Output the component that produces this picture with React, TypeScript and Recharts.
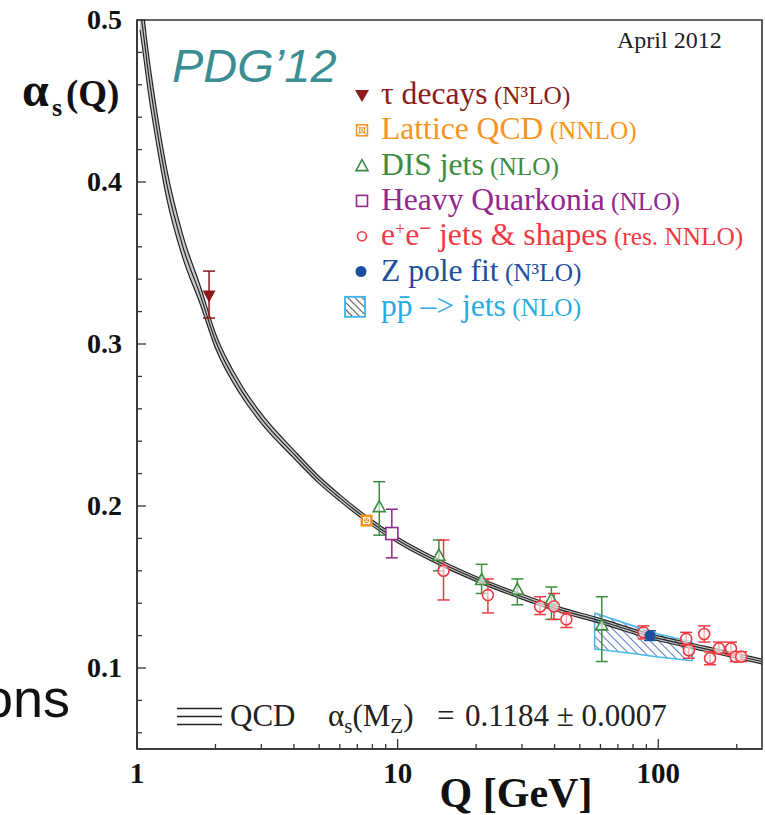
import React from 'react';
import {
  ComposedChart,
  Line,
  Area,
  Scatter,
  XAxis,
  YAxis,
  ErrorBar,
  ReferenceArea,
  ReferenceLine,
} from 'recharts';

// ---------- data ----------
const qcdQ = [1.027, 1.05, 1.1, 1.2, 1.3, 1.5, 1.75, 2, 2.5, 3, 4, 5, 6, 7.6, 10, 15, 20, 30, 40, 60, 91, 150, 250];
const qcdCentral = [0.507, 0.496, 0.47, 0.43, 0.399, 0.36, 0.33, 0.302, 0.272, 0.254, 0.232, 0.216, 0.205, 0.192, 0.179, 0.164, 0.155, 0.144, 0.137, 0.129, 0.12, 0.112, 0.104];
const qcdHigh = [0.52, 0.509, 0.482, 0.44, 0.408, 0.367, 0.3355, 0.3065, 0.2755, 0.257, 0.2345, 0.2182, 0.207, 0.1938, 0.1807, 0.1656, 0.1565, 0.1455, 0.1385, 0.1305, 0.1215, 0.1135, 0.1055];
const qcdLow = [0.494, 0.483, 0.458, 0.42, 0.39, 0.353, 0.3245, 0.2975, 0.2685, 0.251, 0.2295, 0.2138, 0.203, 0.1902, 0.1773, 0.1624, 0.1535, 0.1425, 0.1355, 0.1275, 0.1185, 0.1105, 0.1025];

const tauQ = [1.89];
const tauA = [0.33];
const tauLo = [0.316];
const tauHi = [0.345];

const latQ = [7.6];
const latA = [0.191];
const latLo = [0.189];
const latHi = [0.193];

const disQ = [8.5, 14.4, 21.0, 28.8, 38.9, 60.7];
const disA = [0.199, 0.169, 0.154, 0.148, 0.142, 0.126];
const disLo = [0.182, 0.16, 0.146, 0.139, 0.13, 0.104];
const disHi = [0.215, 0.179, 0.164, 0.155, 0.15, 0.144];

const hqQ = [9.5];
const hqA = [0.183];
const hqLo = [0.168];
const hqHi = [0.198];

const eeQ = [15.0, 22.2, 35.2, 39.8, 44.4, 87.8, 128, 131, 150, 158, 171, 190, 198, 208];
const eeA = [0.16, 0.145, 0.138, 0.138, 0.13, 0.122, 0.118, 0.111, 0.121, 0.106, 0.112, 0.112, 0.107, 0.107];
const eeLo = [0.142, 0.134, 0.133, 0.13, 0.125, 0.118, 0.114, 0.106, 0.116, 0.102, 0.109, 0.108, 0.104, 0.104];
const eeHi = [0.179, 0.155, 0.144, 0.146, 0.134, 0.126, 0.122, 0.114, 0.126, 0.11, 0.116, 0.116, 0.11, 0.11];

const zQ = [93];
const zA = [0.12];
const zLo = [0.117];
const zHi = [0.123];

const ppQ = [57, 80, 100, 135];
const ppLow = [0.1117, 0.109, 0.1068, 0.1045];
const ppHigh = [0.134, 0.126, 0.121, 0.116];

const xTicks = [1, 2, 3, 4, 5, 6, 7, 8, 9, 10, 20, 30, 40, 50, 60, 70, 80, 90, 100, 200];
const xLabels = [1, 10, 100];
const yTicks = [0.06, 0.08, 0.1, 0.12, 0.14, 0.16, 0.18, 0.2, 0.22, 0.24, 0.26, 0.28, 0.3, 0.32, 0.34, 0.36, 0.38, 0.4, 0.42, 0.44, 0.46, 0.48, 0.5];
const yLabels = ['0.1', '0.2', '0.3', '0.4', '0.5'];

const legendRows = [
  { main: 'τ decays', sub: ' (N³LO)', color: '#8b1a1a' },
  { main: 'Lattice QCD', sub: ' (NNLO)', color: '#f7941d' },
  { main: 'DIS jets', sub: ' (NLO)', color: '#3d8c40' },
  { main: 'Heavy Quarkonia', sub: ' (NLO)', color: '#93278f' },
  { main: 'EE', sub: ' (res. NNLO)', color: '#ee3a43' },
  { main: 'Z pole fit', sub: ' (N³LO)', color: '#1c4fa0' },
  { main: 'pp\u0304 \u2013> jets', sub: ' (NLO)', color: '#29abe2' },
];

// ---------- tables built from the arrays ----------
const curve = (vals: number[]) => qcdQ.map((q, i) => ({ q, v: vals[i] }));
const bandData = qcdQ.map((q, i) => ({ q, band: [qcdLow[i], qcdHigh[i]] }));
const pts = (qs: number[], as: number[], los: number[], his: number[]) =>
  qs.map((q, i) => ({ q, a: as[i], err: [as[i] - los[i], his[i] - as[i]] }));
const ppData = ppQ.map((q, i) => ({ q, band: [ppLow[i], ppHigh[i]] }));

const SERIF = '"Liberation Serif", "Times New Roman", serif';
const SANS = '"Liberation Sans", Arial, sans-serif';
const AX = '#333';

const C_TAU = '#8b1a1a';
const C_LAT = '#f7941d';
const C_DIS = '#3d8c40';
const C_HQ = '#93278f';
const C_EE = '#ee3a43';
const C_Z = '#1c4fa0';

// ---------- shapes ----------
const TauShape = (p: any) => (
  <polygon points={`${p.cx - 6.5},${p.cy - 5} ${p.cx + 6.5},${p.cy - 5} ${p.cx},${p.cy + 7}`} fill={C_TAU} />
);
const LatShape = (p: any) => (
  <g>
    <rect x={p.cx - 6} y={p.cy - 6} width={12} height={12} fill={C_LAT} />
    <rect x={p.cx - 3} y={p.cy - 3} width={6} height={6} fill="none" stroke="#fff" strokeWidth={1} />
    <line x1={p.cx - 3} y1={p.cy - 3} x2={p.cx + 3} y2={p.cy + 3} stroke="#fff" strokeWidth={1} />
    <line x1={p.cx - 3} y1={p.cy + 3} x2={p.cx + 3} y2={p.cy - 3} stroke="#fff" strokeWidth={1} />
  </g>
);
const DisShape = (p: any) => (
  <polygon
    points={`${p.cx},${p.cy - 7} ${p.cx - 6},${p.cy + 4} ${p.cx + 6},${p.cy + 4}`}
    fill="#fff"
    fillOpacity={0.6}
    stroke={C_DIS}
    strokeWidth={1.6}
  />
);
const HqShape = (p: any) => (
  <rect x={p.cx - 6} y={p.cy - 6} width={12} height={12} fill="#fff" stroke={C_HQ} strokeWidth={1.6} />
);
const EeShape = (p: any) => (
  <circle cx={p.cx} cy={p.cy} r={5.5} fill="#fff" fillOpacity={0.6} stroke={C_EE} strokeWidth={1.6} />
);
const ZShape = (p: any) => <circle cx={p.cx} cy={p.cy} r={5.5} fill={C_Z} />;

// ---------- ticks ----------
const XTick = (props: any) => {
  const { x, y, payload } = props;
  const v = payload.value;
  const major = xLabels.includes(v);
  return (
    <g>
      <line x1={x} x2={x} y1={y} y2={y - (major ? 10 : 5)} stroke={AX} strokeWidth={1.3} />
      {major && (
        <text x={x} y={y + 34} textAnchor="middle" fontFamily={SERIF} fontWeight="bold" fontSize={29} fill="#111">
          {v}
        </text>
      )}
    </g>
  );
};

const YTick = (props: any) => {
  const { x, y, payload } = props;
  const label = Number(payload.value).toFixed(2).replace(/0$/, '');
  const major = yLabels.includes(label);
  return (
    <g>
      <line x1={x} x2={x + (major ? 9 : 5)} y1={y} y2={y} stroke={AX} strokeWidth={1.3} />
      {major && (
        <text x={x - 15} y={y + 9} textAnchor="end" fontFamily={SERIF} fontWeight="bold" fontSize={28} fill="#111">
          {label}
        </text>
      )}
    </g>
  );
};

// ---------- overlay (texts & legend) ----------
const Overlay = () => {
  const base = (i: number) => 104 + 35.3 * i;
  const mx = 362;
  const mark = (i: number) => base(i) - 9;
  return (
    <svg
      width={765}
      height={815}
      style={{ position: 'absolute', left: 0, top: 0, pointerEvents: 'none' }}
    >
      <defs>
        <pattern id="hatchGray" patternUnits="userSpaceOnUse" width={5} height={5} patternTransform="rotate(-45)">
          <line x1={0} y1={0} x2={0} y2={5} stroke="#444" strokeWidth={1.8} />
        </pattern>
      </defs>
      {/* stray text at left edge (cut off in the reference too) */}
      <text x={70} y={717} textAnchor="end" fontFamily={SANS} fontSize={54} fill="#111">
        ons
      </text>

      {/* y axis label */}
      <text x={22} y={106} fontFamily={SERIF} fontWeight="bold" fontSize={48} fill="#111">
        α
      </text>
      <text x={52} y={116} fontFamily={SERIF} fontWeight="bold" fontSize={26} fill="#111">
        s
      </text>
      <text x={66} y={106} fontFamily={SERIF} fontWeight="bold" fontSize={37} fill="#111">
        (Q)
      </text>

      {/* x axis label */}
      <text x={516} y={807} textAnchor="middle" fontFamily={SERIF} fontWeight="bold" fontSize={42} fill="#111">
        Q [GeV]
      </text>

      {/* PDG'12 */}
      <text x={172} y={82} fontFamily={SANS} fontStyle="italic" fontSize={47} fill="#3a8d92">
        PDG’12
      </text>

      {/* April 2012 */}
      <text x={617} y={48} fontFamily={SERIF} fontSize={24} fill="#222">
        April 2012
      </text>

      {/* legend markers */}
      <polygon points={`${mx - 7},${mark(0) - 5} ${mx + 7},${mark(0) - 5} ${mx},${mark(0) + 7}`} fill={C_TAU} />
      <g>
        <rect x={mx - 5.5} y={mark(1) - 5.5} width={11} height={11} fill="#fff" stroke={C_LAT} strokeWidth={1.5} />
        <rect x={mx - 2.5} y={mark(1) - 2.5} width={5} height={5} fill="none" stroke={C_LAT} strokeWidth={1} />
        <line x1={mx - 5} y1={mark(1) - 5} x2={mx + 5} y2={mark(1) + 5} stroke={C_LAT} strokeWidth={1} />
        <line x1={mx - 5} y1={mark(1) + 5} x2={mx + 5} y2={mark(1) - 5} stroke={C_LAT} strokeWidth={1} />
      </g>
      <polygon
        points={`${mx},${mark(2) - 6} ${mx - 6},${mark(2) + 5} ${mx + 6},${mark(2) + 5}`}
        fill="none"
        stroke={C_DIS}
        strokeWidth={1.6}
      />
      <rect x={mx - 5.5} y={mark(3) - 5.5} width={11} height={11} fill="none" stroke={C_HQ} strokeWidth={1.6} />
      <circle cx={mx} cy={mark(4)} r={4.5} fill="none" stroke={C_EE} strokeWidth={1.6} />
      <circle cx={mx - 1} cy={mark(5)} r={5.5} fill={C_Z} />
      <rect x={345} y={mark(6) - 10} width={20} height={20} fill="url(#hatchGray)" stroke="#3cb4e7" strokeWidth={1.8} />

      {/* legend texts */}
      {legendRows.map((r, i) => {
        let main: React.ReactNode = r.main;
        if (r.main === 'EE') {
          main = (
            <>
              e<tspan dy={-10} fontSize={18}>+</tspan>
              <tspan dy={10}>e</tspan>
              <tspan dy={-10} fontSize={21} fontWeight="bold">−</tspan>
              <tspan dy={10}>{'  jets & shapes'}</tspan>
            </>
          );
        }
        return (
          <text key={i} x={381} y={base(i)} fontFamily={SERIF} fontSize={31.6} fill={r.color}>
            {main}
            <tspan fontSize={25.3}>{r.sub}</tspan>
          </text>
        );
      })}

      {/* bottom QCD legend */}
      <line x1={177} x2={222} y1={708.5} y2={708.5} stroke="#222" strokeWidth={1.3} />
      <line x1={177} x2={222} y1={716.5} y2={716.5} stroke="#222" strokeWidth={1.3} />
      <line x1={177} x2={222} y1={724.5} y2={724.5} stroke="#222" strokeWidth={1.3} />
      <text x={230} y={726} fontFamily={SERIF} fontSize={31} fill="#222">
        QCD
      </text>
      <text x={328} y={726} fontFamily={SERIF} fontSize={31} fill="#222">
        α<tspan dy={7} fontSize={21}>s</tspan>
        <tspan dy={-7}>(M</tspan>
        <tspan dy={7} fontSize={21}>Z</tspan>
        <tspan dy={-7}>)</tspan>
        <tspan x={437}>=</tspan>
        <tspan x={465}>0.1184 ± 0.0007</tspan>
      </text>
    </svg>
  );
};

export default function App() {
  return (
    <div style={{ position: 'absolute', left: 0, top: 0, width: 765, height: 815, background: '#fff' }}>
      <ComposedChart width={765} height={815} margin={{ top: 20, right: 3, bottom: 0, left: 0 }}>
        <defs>
          <pattern id="hatchBlue" patternUnits="userSpaceOnUse" width={6} height={6} patternTransform="rotate(-45)">
            <line x1={0} y1={0} x2={0} y2={6} stroke="#3558b0" strokeWidth={1.6} />
          </pattern>
        </defs>
        <XAxis
          dataKey="q"
          type="number"
          scale="log"
          domain={[1, 250]}
          allowDataOverflow
          ticks={xTicks}
          interval={0}
          tickSize={0}
          tickMargin={0}
          tickLine={false}
          tick={<XTick />}
          height={66}
          axisLine={{ stroke: AX, strokeWidth: 1.6 }}
        />
        <YAxis
          type="number"
          domain={[0.05, 0.5]}
          allowDataOverflow
          ticks={yTicks}
          interval={0}
          tickSize={0}
          tickMargin={0}
          tickLine={false}
          tick={<YTick />}
          width={137}
          axisLine={{ stroke: AX, strokeWidth: 1.6 }}
        />
        <ReferenceArea x1={1} x2={250} y1={0.05} y2={0.5} fill="none" fillOpacity={0} stroke={AX} strokeWidth={1.6} />
        <Area
          data={ppData}
          dataKey="band"
          type="linear"
          fill="url(#hatchBlue)"
          fillOpacity={1}
          stroke="#4ab8e8"
          strokeWidth={1.6}
          isAnimationActive={false}
        />
        <ReferenceLine
          segment={[
            { x: ppQ[0], y: ppLow[0] },
            { x: ppQ[0], y: ppHigh[0] },
          ]}
          stroke="#4ab8e8"
          strokeWidth={1.6}
        />
        <ReferenceLine
          segment={[
            { x: ppQ[ppQ.length - 1], y: ppLow[ppLow.length - 1] },
            { x: ppQ[ppQ.length - 1], y: ppHigh[ppHigh.length - 1] },
          ]}
          stroke="#4ab8e8"
          strokeWidth={1.6}
        />
        <Area
          data={bandData}
          dataKey="band"
          type="monotone"
          fill="#888"
          fillOpacity={0.45}
          stroke="none"
          isAnimationActive={false}
        />
        <Line data={curve(qcdHigh)} dataKey="v" type="monotone" stroke="#222" strokeWidth={1.2} dot={false} isAnimationActive={false} />
        <Line data={curve(qcdCentral)} dataKey="v" type="monotone" stroke="#222" strokeWidth={1.2} dot={false} isAnimationActive={false} />
        <Line data={curve(qcdLow)} dataKey="v" type="monotone" stroke="#222" strokeWidth={1.2} dot={false} isAnimationActive={false} />

        <Scatter data={pts(disQ, disA, disLo, disHi)} dataKey="a" shape={DisShape} isAnimationActive={false}>
          <ErrorBar dataKey="err" direction="y" width={6} stroke={C_DIS} strokeWidth={1.5} />
        </Scatter>
        <Scatter data={pts(eeQ, eeA, eeLo, eeHi)} dataKey="a" shape={EeShape} isAnimationActive={false}>
          <ErrorBar dataKey="err" direction="y" width={6} stroke={C_EE} strokeWidth={1.5} />
        </Scatter>
        <Scatter data={pts(hqQ, hqA, hqLo, hqHi)} dataKey="a" shape={HqShape} isAnimationActive={false}>
          <ErrorBar dataKey="err" direction="y" width={6} stroke={C_HQ} strokeWidth={1.5} />
        </Scatter>
        <Scatter data={pts(latQ, latA, latLo, latHi)} dataKey="a" shape={LatShape} isAnimationActive={false}>
          <ErrorBar dataKey="err" direction="y" width={4} stroke={C_LAT} strokeWidth={1.5} />
        </Scatter>
        <Scatter data={pts(tauQ, tauA, tauLo, tauHi)} dataKey="a" shape={TauShape} isAnimationActive={false}>
          <ErrorBar dataKey="err" direction="y" width={6} stroke={C_TAU} strokeWidth={1.5} />
        </Scatter>
        <Scatter data={pts(zQ, zA, zLo, zHi)} dataKey="a" shape={ZShape} isAnimationActive={false}>
          <ErrorBar dataKey="err" direction="y" width={6} stroke={C_Z} strokeWidth={1.5} />
        </Scatter>
      </ComposedChart>
      <Overlay />
    </div>
  );
}
